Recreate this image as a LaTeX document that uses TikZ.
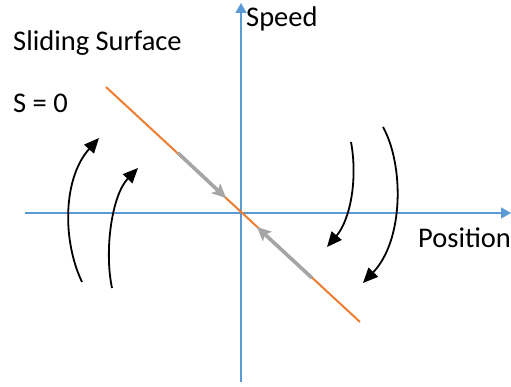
\documentclass[tikz,border=0pt]{standalone}
\usepackage{fontspec}
\setmainfont{Carlito}
\usetikzlibrary{arrows.meta}
\definecolor{axisblue}{RGB}{91,155,213}
\definecolor{surforange}{RGB}{237,125,49}
\definecolor{flowgray}{RGB}{165,165,165}
\tikzset{
  axisline/.style={draw=axisblue, line width=1.4pt, -{Triangle[length=10pt,width=11pt]}},
  surfline/.style={draw=surforange, line width=2pt},
  slidearrow/.style={draw=flowgray, line width=3.6pt, -{Stealth[length=14pt,width=13pt,inset=3pt]}},
  traj/.style={draw=black, line width=1.8pt, -{Triangle[length=15pt,width=13pt]}},
  lbl/.style={inner sep=0pt, anchor=base west, font=\fontsize{28.5}{32}\selectfont}
}
\begin{document}
\begin{tikzpicture}[x=1pt,y=-1pt]
\useasboundingbox (0,0) rectangle (511,387);
% axes
\coordinate (xl) at (25,213);
\coordinate (xr) at (511,213);
\coordinate (yb) at (241,382);
\coordinate (yt) at (241,3);
\draw[axisline] (xl) -- (xr);
\draw[axisline] (yb) -- (yt);
% sliding surface
\coordinate (s1) at (106,87);
\coordinate (s2) at (360,322);
\draw[surfline] (s1) -- (s2);
\coordinate (g1a) at (178,153);
\coordinate (g1b) at (226,198);
\coordinate (g2a) at (312,278);
\coordinate (g2b) at (257,227);
\draw[slidearrow] (g1a) -- (g1b);
\draw[slidearrow] (g2a) -- (g2b);
% trajectories
\coordinate (a1) at (82,282);  \coordinate (a1e) at (99,138);
\coordinate (a2) at (112,288); \coordinate (a2e) at (138,168);
\coordinate (a3) at (351,142); \coordinate (a3e) at (327,247);
\coordinate (a4) at (383,127); \coordinate (a4e) at (363,283);
\draw[traj] (a1) .. controls (62,240) and (63,178) .. (a1e);
\draw[traj] (a2) .. controls (104,250) and (112,195) .. (a2e);
\draw[traj] (a3) .. controls (358,180) and (350,220) .. (a3e);
\draw[traj] (a4) .. controls (404,165) and (404,240) .. (a4e);
% labels
\node[lbl] (tsurf) at (13,51) {Sliding Surface};
\node[lbl] (tszero) at (13,113) {S = 0};
\node[lbl] (tspeed) at (246,27) {Speed};
\node[lbl] (tpos) at (418,248) {Position};
\end{tikzpicture}
\end{document}
